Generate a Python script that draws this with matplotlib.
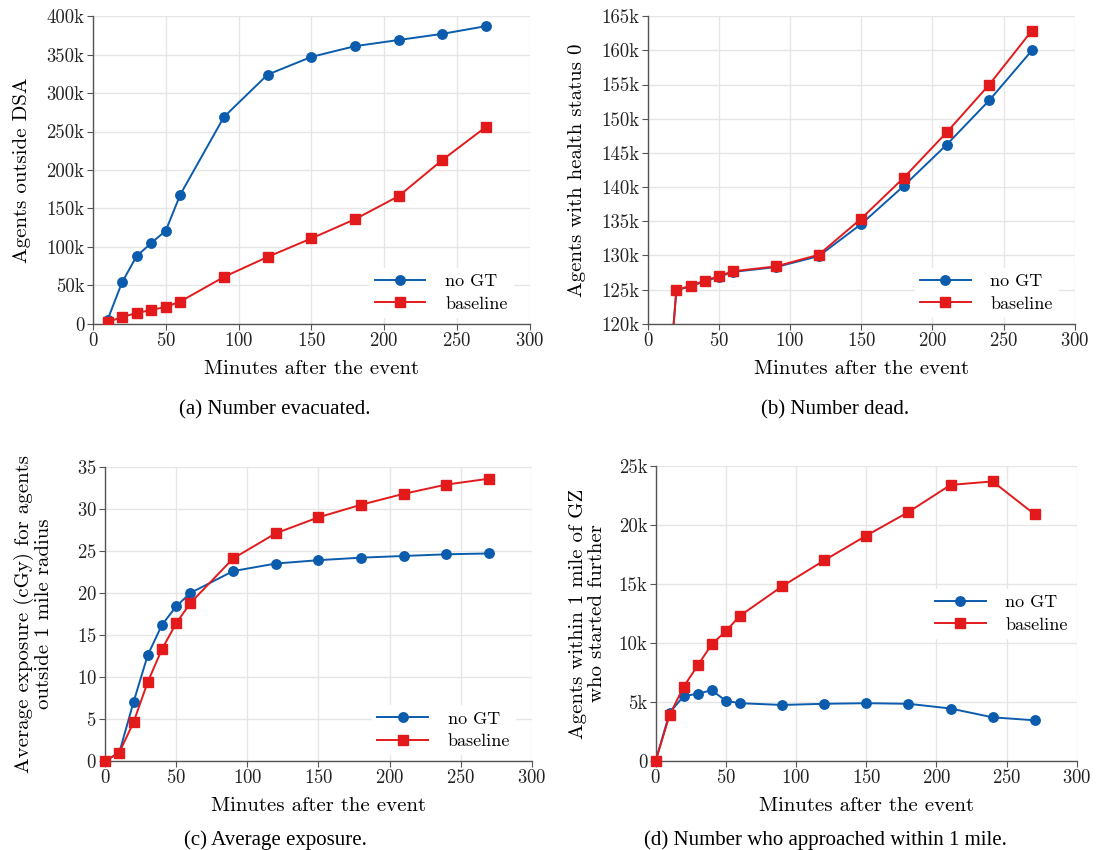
import matplotlib
matplotlib.use("Agg")
import matplotlib.pyplot as plt
from matplotlib.ticker import FuncFormatter

# DATA
minutes_a = [10, 20, 30, 40, 50, 60, 90, 120, 150, 180, 210, 240, 270]
evac_nogt = [5, 54, 88, 105, 121, 168, 269, 324, 347, 361, 369, 377, 387]
evac_base = [2, 9, 14, 18, 22, 29, 61, 87, 111, 136, 166, 213, 256]

minutes_b = [10, 20, 30, 40, 50, 60, 90, 120, 150, 180, 210, 240, 270]
dead_nogt = [99.0, 124.9, 125.5, 126.2, 126.9, 127.6, 128.3, 129.9, 134.6, 140.2, 146.2, 152.7, 160.0]
dead_base = [99.0, 124.9, 125.6, 126.3, 127.0, 127.7, 128.4, 130.1, 135.4, 141.4, 148.0, 155.0, 162.9]

minutes_c = [0, 10, 20, 30, 40, 50, 60, 90, 120, 150, 180, 210, 240, 270]
expo_nogt = [0, 1.0, 7.0, 12.6, 16.2, 18.4, 20.0, 22.6, 23.5, 23.9, 24.2, 24.4, 24.6, 24.7]
expo_base = [0, 1.0, 4.6, 9.4, 13.3, 16.4, 18.8, 24.1, 27.1, 29.0, 30.5, 31.8, 32.9, 33.6]

minutes_d = [0, 10, 20, 30, 40, 50, 60, 90, 120, 150, 180, 210, 240, 270]
appr_nogt = [0, 4.1, 5.5, 5.7, 6.0, 5.1, 4.9, 4.75, 4.85, 4.9, 4.85, 4.45, 3.7, 3.45]
appr_base = [0, 3.9, 6.3, 8.1, 9.9, 11.0, 12.3, 14.8, 17.0, 19.1, 21.1, 23.4, 23.7, 20.9]

# STYLE
BLUE = "#0b5cad"
RED = "#e31a1c"
GRID = "#e6e6e6"
SPINE = "#555555"

plt.rcParams["font.family"] = ["cmr10", "DejaVu Serif"]
plt.rcParams["axes.formatter.use_mathtext"] = True
plt.rcParams["mathtext.fontset"] = "cm"

fig = plt.figure(figsize=(11, 8.5), dpi=100)
fig.set_facecolor("white")

k_fmt = FuncFormatter(lambda v, p: "0" if v == 0 else "%dk" % round(v))


def style_axis(ax, ylabel, ypad):
    ax.set_xlim(0, 300)
    ax.set_xticks(range(0, 301, 50))
    ax.grid(True, color=GRID, linewidth=1.0)
    ax.set_axisbelow(True)
    for s in ["top", "right"]:
        ax.spines[s].set_visible(False)
    for s in ["left", "bottom"]:
        ax.spines[s].set_color(SPINE)
        ax.spines[s].set_linewidth(1.0)
    ax.tick_params(colors="#222222", labelsize=13.5, length=4, color=SPINE, pad=2)
    ax.set_xlabel("Minutes after the event", fontsize=15, labelpad=7)
    ax.set_ylabel(ylabel, fontsize=15, labelpad=ypad, linespacing=1.05)


def draw(ax, x, y1, y2, clip=True, loc="lower right", anchor=None):
    ax.plot(x, y1, color=BLUE, marker="o", markersize=6.8, linewidth=1.4, label="no GT", clip_on=clip, zorder=3)
    ax.plot(x, y2, color=RED, marker="s", markersize=6.8, linewidth=1.4, label="baseline", clip_on=clip, zorder=4)
    kw = dict(loc=loc, fontsize=13, frameon=True, facecolor="white", edgecolor="white",
              framealpha=1, fancybox=False, handlelength=2.8, handletextpad=1.1, borderpad=0.3,
              labelspacing=0.38, borderaxespad=0.2)
    if anchor is not None:
        kw["bbox_to_anchor"] = anchor
    leg = ax.legend(**kw)
    leg.set_zorder(5)


# (a) Number evacuated
ax1 = fig.add_axes([0.0845, 0.619, 0.397, 0.362])
draw(ax1, minutes_a, evac_nogt, evac_base, anchor=(0.97, 0.01))
ax1.set_ylim(0, 400)
ax1.set_yticks(range(0, 401, 50))
ax1.yaxis.set_major_formatter(k_fmt)
style_axis(ax1, "Agents outside DSA", 11)

# (b) Number dead
ax2 = fig.add_axes([0.589, 0.619, 0.388, 0.362])
draw(ax2, minutes_b, dead_nogt, dead_base, anchor=(0.97, 0.01))
ax2.set_ylim(120, 165)
ax2.set_yticks(range(120, 166, 5))
ax2.yaxis.set_major_formatter(FuncFormatter(lambda v, p: "%dk" % round(v)))
style_axis(ax2, "Agents with health status 0", 11)

# (c) Average exposure
ax3 = fig.add_axes([0.0955, 0.1047, 0.388, 0.346])
draw(ax3, minutes_c, expo_nogt, expo_base, clip=False, anchor=(0.97, 0.01))
ax3.set_ylim(0, 35)
ax3.set_yticks(range(0, 36, 5))
style_axis(ax3, "Average exposure (cGy) for agents\noutside 1 mile radius", 17)

# (d) Number who approached
ax4 = fig.add_axes([0.596, 0.1047, 0.383, 0.347])
draw(ax4, minutes_d, appr_nogt, appr_base, clip=False, loc="center right", anchor=(1.0, 0.5))
ax4.set_ylim(0, 25)
ax4.set_yticks(range(0, 26, 5))
ax4.yaxis.set_major_formatter(k_fmt)
style_axis(ax4, "Agents within 1 mile of GZ\nwho started further", 9)

# captions
cap = dict(ha="center", va="center", fontsize=15, family=["Liberation Serif", "DejaVu Serif"])
fig.text(0.25, 0.518, "(a) Number evacuated.", **cap)
fig.text(0.759, 0.518, "(b) Number dead.", **cap)
fig.text(0.25, 0.012, "(c) Average exposure.", **cap)
fig.text(0.75, 0.012, "(d) Number who approached within 1 mile.", **cap)

fig.savefig("out.png", dpi=100)
